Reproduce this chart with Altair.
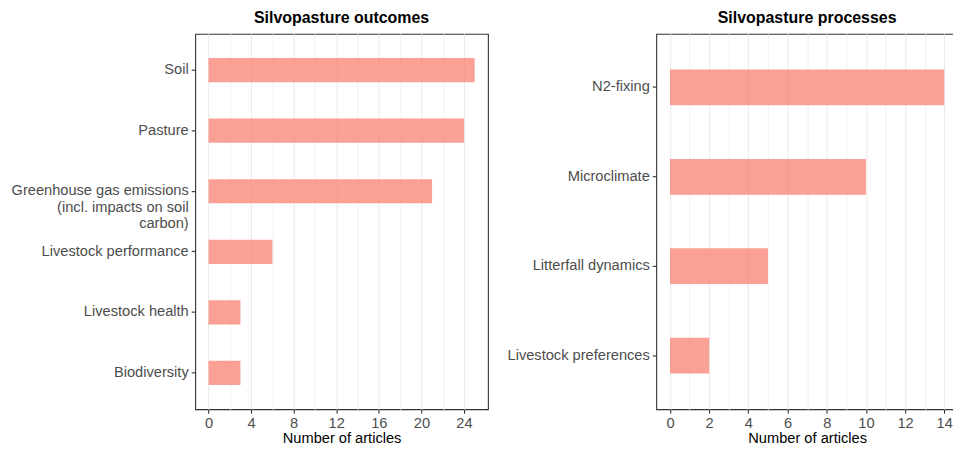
import altair as alt
import pandas as pd

outcome_labels = ["Soil", "Pasture",
                  "Greenhouse gas emissions|(incl. impacts on soil|carbon)",
                  "Livestock performance", "Livestock health", "Biodiversity"]
outcome_counts = [25, 24, 21, 6, 3, 3]

process_labels = ["N2-fixing", "Microclimate", "Litterfall dynamics", "Livestock preferences"]
process_counts = [14, 10, 5, 2]

left_ticks = list(range(0, 25, 2))
right_ticks = list(range(0, 15, 1))

FONT = "Liberation Sans"
BAR = "#FA8072"
GRID = "#EBEBEB"
DARK = "#333333"
LAB = "#4D4D4D"
PLOT_H = 377


def panel(labels, counts, title, domain, ticks, major_step, width, yextent):
    df = pd.DataFrame({"cat": labels, "n": counts})
    xaxis = alt.Axis(
        values=ticks,
        title="Number of articles",
        labelExpr=f"datum.value % {major_step} == 0 ? datum.label : ''",
        tickOpacity={"condition": {"test": f"datum.value % {major_step} != 0", "value": 0}, "value": 1},
        gridColor={"condition": {"test": f"datum.value % {major_step} != 0", "value": "#F2F2F2"}, "value": GRID},
        gridWidth=1.1,
        tickColor=DARK, tickSize=4, tickWidth=1.1,
        labelColor=LAB, labelFontSize=14.7, labelFont=FONT, labelPadding=2,
        titleColor="black", titleFontSize=14.7, titleFont=FONT, titleFontWeight="normal",
        titlePadding=1, domain=False, labelFlush=False,
    )
    yaxis = alt.Axis(
        title=None,
        labelExpr="split(datum.label, '|')",
        labelLineHeight=16.5,
        tickColor=DARK, tickSize=4, tickWidth=1.1,
        labelColor=LAB, labelFontSize=14.7, labelFont=FONT, labelPadding=3,
        gridColor=GRID, gridWidth=1.1, domain=False, bandPosition=0.5,
        minExtent=yextent, maxExtent=yextent, labelLimit=300,
    )
    return alt.Chart(df).mark_bar(color=BAR, opacity=0.75).encode(
        x=alt.X("n:Q", scale=alt.Scale(domain=domain, nice=False, zero=False), axis=xaxis),
        y=alt.Y("cat:N", sort=labels, axis=yaxis,
                scale=alt.Scale(paddingInner=0.6, paddingOuter=0.4)),
    ).properties(
        width=width, height=PLOT_H,
        title=alt.TitleParams(title, font=FONT, fontSize=16, fontWeight="bold",
                              color="black", anchor="middle", frame="group", offset=8),
    )


left = panel(outcome_labels, outcome_counts, "Silvopasture outcomes",
             [-1.25, 26.25], left_ticks, 4, 294, 187)
right = panel(process_labels, process_counts, "Silvopasture processes",
              [-0.7, 14.7], right_ticks, 2, 303, 167)

chart = alt.hconcat(left, right, spacing=0).properties(
    padding={"left": 0, "top": 0, "right": -6, "bottom": -2}
).configure(background="white").configure_view(stroke=DARK, strokeWidth=1.1)

chart.save("out.html", embed_options={"renderer": "svg", "actions": False})
